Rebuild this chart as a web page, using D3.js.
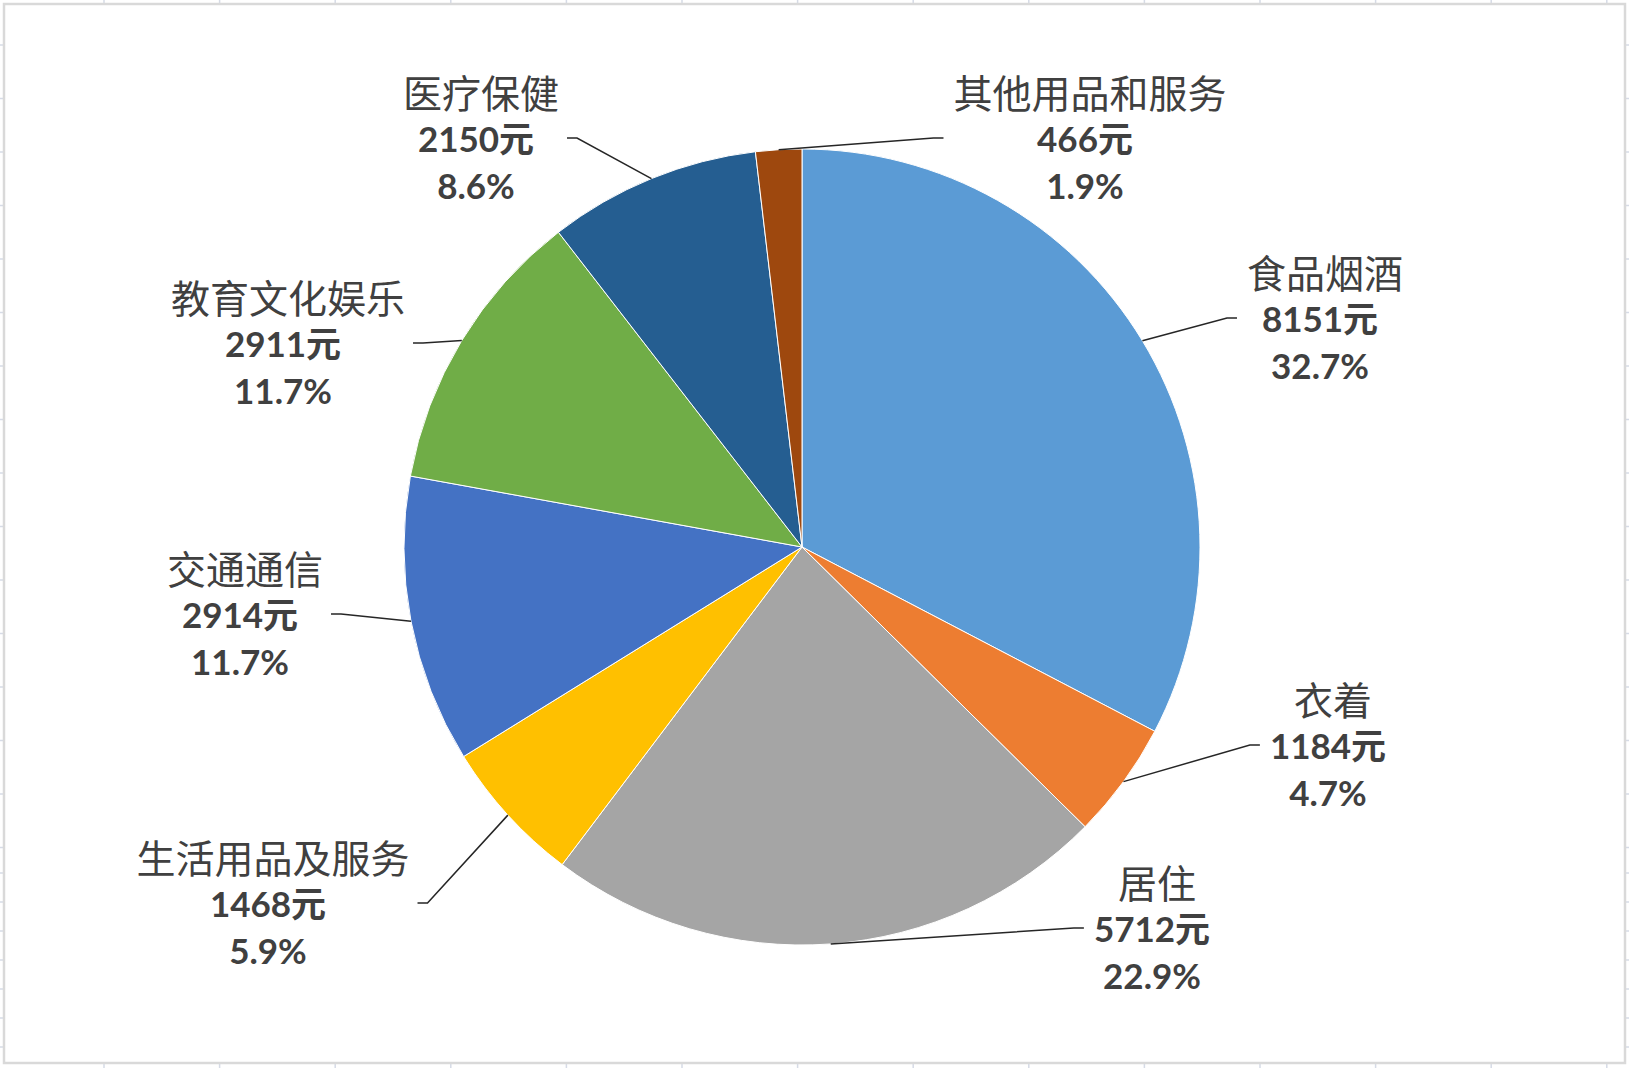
<!DOCTYPE html>
<html>
<head>
<meta charset="utf-8">
<script src="https://cdn.jsdelivr.net/npm/d3@7"></script>
<style>
  body { margin: 0; background: #fff; }
  svg { display: block; }
</style>
</head>
<body>
<svg id="chart" width="1629" height="1068"></svg>
<script>
// consumption categories, clockwise from 12 o'clock
const categories = ['食品烟酒', '衣着', '居住', '生活用品及服务', '交通通信', '教育文化娱乐', '医疗保健', '其他用品和服务'];
const amounts = [8151, 1184, 5712, 1468, 2914, 2911, 2150, 466];
const colors = ['#5B9BD5', '#ED7D31', '#A5A5A5', '#FFC000', '#4472C4', '#70AD47', '#255E91', '#9E480E'];

// label centres (x, y of the middle line), placed by hand like in the original
const labelPos = [[1320, 318], [1328, 745], [1152, 928], [268, 903], [240, 614], [283, 343], [476, 138], [1085, 138]];

const W = 1629, H = 1068;
const cx = 802, cy = 547, radius = 398;
const lineGap = 47;
const textColor = '#404040';

const svg = d3.select('#chart');

// spreadsheet grid behind the chart (only the edges show)
const grid = svg.append('g').attr('stroke', '#d6dbe6').attr('stroke-width', 1.5);
d3.range(104, W, 115.6).forEach(x => {
    grid.append('line').attr('x1', x).attr('x2', x).attr('y1', 0).attr('y2', H);
});
d3.range(45, 860, 53.5).concat(d3.range(873, H, 29)).forEach(y => {
    grid.append('line').attr('x1', 0).attr('x2', W).attr('y1', y).attr('y2', y);
});

// chart area
svg.append('rect')
    .attr('x', 4).attr('y', 4)
    .attr('width', 1621).attr('height', 1059)
    .attr('fill', '#fff')
    .attr('stroke', '#d9d9d9')
    .attr('stroke-width', 2.5);

const total = d3.sum(amounts);
const fmtPct = d3.format('.1%');

const data = categories.map((c, i) => ({
    name: c,
    value: amounts[i],
    color: colors[i],
    pos: labelPos[i]
}));

const pie = d3.pie().sort(null).value(d => d.value);
const arc = d3.arc().innerRadius(0).outerRadius(radius);

const arcs = pie(data);

const g = svg.append('g').attr('transform', `translate(${cx},${cy})`);

g.selectAll('path.slice')
    .data(arcs)
    .enter()
    .append('path')
    .attr('class', 'slice')
    .attr('d', arc)
    .attr('fill', d => d.data.color)
    .attr('stroke', '#fff')
    .attr('stroke-width', 1);

// labels
const labels = svg.append('g').attr('class', 'labels');
const leaders = svg.append('g').attr('class', 'leaders');

arcs.forEach(a => {
    const [lx, ly] = a.data.pos;
    const lab = labels.append('g');

    lab.append('text')
        .attr('x', lx + 5).attr('y', ly - lineGap)
        .attr('text-anchor', 'middle')
        .attr('dominant-baseline', 'central')
        .attr('font-family', '"Noto Sans CJK SC", sans-serif')
        .attr('font-size', 39)
        .attr('fill', textColor)
        .text(a.data.name);

    lab.append('text')
        .attr('x', lx).attr('y', ly)
        .attr('text-anchor', 'middle')
        .attr('dominant-baseline', 'central')
        .attr('font-family', 'Lato, "Noto Sans CJK SC", sans-serif')
        .attr('font-weight', 'bold')
        .attr('font-size', 35)
        .attr('fill', textColor)
        .text(a.data.value + '元');

    lab.append('text')
        .attr('x', lx).attr('y', ly + lineGap)
        .attr('text-anchor', 'middle')
        .attr('dominant-baseline', 'central')
        .attr('font-family', 'Lato, sans-serif')
        .attr('font-weight', 'bold')
        .attr('font-size', 35)
        .attr('fill', textColor)
        .text(fmtPct(a.data.value / total));

    // leader: from the slice edge at its mid angle to the side of the label
    const mid = (a.startAngle + a.endAngle) / 2;
    const sx = cx + radius * Math.sin(mid);
    const sy = cy - radius * Math.cos(mid);
    const box = lab.node().getBBox();
    const right = lx > cx;
    const ex = right ? box.x - 10 : box.x + box.width + 8;
    const kx = right ? ex - 10 : ex + 10;

    leaders.append('path')
        .attr('d', d3.line()([[sx, sy], [kx, ly], [ex, ly]]))
        .attr('fill', 'none')
        .attr('stroke', '#262626')
        .attr('stroke-width', 1.5);
});
</script>
</body>
</html>
